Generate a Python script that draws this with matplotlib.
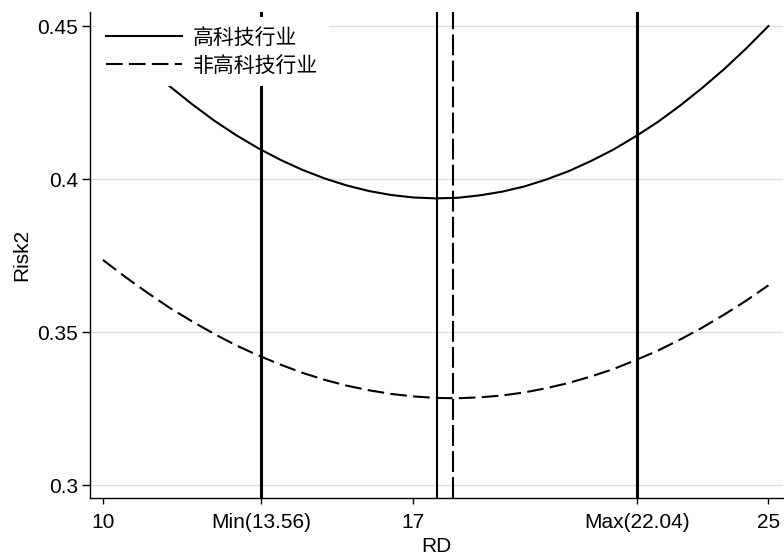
import matplotlib
matplotlib.use("Agg")
import matplotlib.pyplot as plt

plt.rcParams['font.family'] = ['Liberation Sans', 'Noto Sans CJK SC', 'DejaVu Sans']

# Data
rd = [10, 10.5, 11, 11.5, 12, 12.5, 13, 13.5, 14, 14.5, 15, 15.5, 16, 16.5, 17, 17.5,
      18, 18.5, 19, 19.5, 20, 20.5, 21, 21.5, 22, 22.5, 23, 23.5, 24, 24.5, 25]
risk_high = [0.4509, 0.4436, 0.4367, 0.4304, 0.4246, 0.4192, 0.4144, 0.4101, 0.4063, 0.4030,
             0.4002, 0.3979, 0.3961, 0.3948, 0.3940, 0.3937, 0.3939, 0.3947, 0.3959, 0.3976,
             0.3999, 0.4026, 0.4059, 0.4096, 0.4139, 0.4186, 0.4239, 0.4297, 0.4359, 0.4427,
             0.4500]
risk_nonhigh = [0.3736, 0.3681, 0.3629, 0.3580, 0.3536, 0.3495, 0.3457, 0.3424, 0.3394, 0.3367,
                0.3344, 0.3325, 0.3310, 0.3298, 0.3290, 0.3285, 0.3284, 0.3287, 0.3293, 0.3303,
                0.3317, 0.3334, 0.3355, 0.3379, 0.3408, 0.3439, 0.3475, 0.3514, 0.3557, 0.3603,
                0.3653]
series_names = ['高科技行业', '非高科技行业']
rd_min, rd_max = 13.56, 22.04
turn_high, turn_nonhigh = 17.53, 17.88
xticks = [10, 13.56, 17, 22.04, 25]
xtick_labels = ['10', 'Min(13.56)', '17', 'Max(22.04)', '25']
yticks = [0.30, 0.35, 0.40, 0.45]
ytick_labels = ['0.3', '0.35', '0.4', '0.45']

fig = plt.figure(figsize=(7.84, 5.58), dpi=100)
ax = fig.add_axes([0.1148, 0.1075, 0.884, 0.871])

ax.plot(rd, risk_high, color='black', lw=1.5, label=series_names[0], zorder=3)
ax.plot(rd, risk_nonhigh, color='black', lw=1.5, dashes=(8, 3), label=series_names[1], zorder=3)

ax.axvline(rd_min, color='black', lw=2.2, zorder=2)
ax.axvline(rd_max, color='black', lw=2.2, zorder=2)
ax.axvline(turn_high, color='black', lw=1.5, zorder=2)
ax.axvline(turn_nonhigh, color='black', lw=1.5, dashes=(10, 2.5), zorder=2)

ax.set_xlim(9.71, 25.33)
ax.set_ylim(0.2958, 0.4546)
ax.set_xticks(xticks)
ax.set_xticklabels(xtick_labels)
ax.set_yticks(yticks)
ax.set_yticklabels(ytick_labels)
ax.yaxis.grid(True, color='#dddddd', lw=1.0, zorder=0)
ax.set_axisbelow(True)
for s in ['top', 'right']:
    ax.spines[s].set_visible(False)
for s in ['left', 'bottom']:
    ax.spines[s].set_linewidth(1.0)
ax.tick_params(axis='x', direction='out', length=4.3, width=1.0, labelsize=15, pad=6.5)
ax.tick_params(axis='y', direction='out', length=5.8, width=1.0, labelsize=15, pad=2.9)
ax.set_xlabel('RD', fontsize=15, labelpad=3.5)
ax.set_ylabel('Risk2', fontsize=15, labelpad=4)

leg = ax.legend(loc='upper left', bbox_to_anchor=(0.0, 1.0), frameon=True, fancybox=False,
                framealpha=1, edgecolor='none', facecolor='white', fontsize=15,
                handlelength=3.65, handletextpad=0.55, labelspacing=0.4, borderpad=0.5,
                borderaxespad=0.25)
leg.set_zorder(5)

fig.savefig('out.png', dpi=100)
